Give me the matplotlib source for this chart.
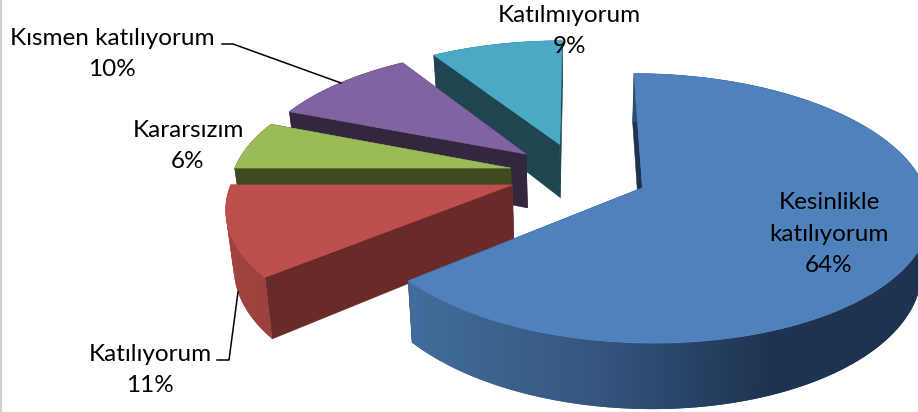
import numpy as np
import matplotlib
matplotlib.use("Agg")
import matplotlib.pyplot as plt
from matplotlib.patches import Polygon
from matplotlib.colors import to_rgb

categories = ["Kesinlikle\nkatılıyorum", "Katılıyorum", "Kararsızım", "Kısmen katılıyorum", "Katılmıyorum"]
values = [64, 11, 6, 10, 9]
top_colors = ["#4F81BD", "#BD4F4C", "#9BBB59", "#8064A2", "#4AAAC5"]
face_colors = ["#1E3350", "#6B2A2A", "#404A20", "#33263F", "#1F4650"]
wall_stops = [
    [(412, "#426C9B"), (600, "#34557F"), (770, "#1E3350"), (930, "#1E3350")],
    [(200, "#A24340"), (300, "#9A403E")],
    [(200, "#404A20"), (300, "#404A20")],
    [(200, "#33263F"), (600, "#33263F")],
    [(200, "#1F4650"), (600, "#1F4650")],
]
label_pos = [(829, 234), (150, 370), (188, 146), (112, 54), (569, 31)]
leaders = [None, [(217, 360), (229, 360), (238, 292)], None, [(222, 44), (233, 44), (341, 83)], None]

# projection of the pie plane
GX, GY, AX, BY, K, EXPLODE, DEPTH, SHRINK = 578.5, 174, 278, 127.5, 0.15, 0.25, 55, 0.977


def project(X, Y):
    w = 1 + K * Y
    return GX + AX * X / w, GY - BY * Y / w, w


def lower(x, y, w):
    return GX + (x - GX) * SHRINK, y + DEPTH / w


fig = plt.figure(figsize=(9.18, 4.12), dpi=100)
ax = fig.add_axes([0, 0, 1, 1])
ax.set_xlim(0, 918)
ax.set_ylim(412, 0)
ax.axis("off")
plt.rcParams["font.family"] = "Lato"

edges = np.cumsum([0] + values) / sum(values) * 2 * np.pi
slices = []
for i in range(len(values)):
    slices.append((i, edges[i], edges[i + 1]))

for i, t0, t1 in reversed(slices):
    mid = (t0 + t1) / 2
    ox, oy = EXPLODE * np.sin(mid), EXPLODE * np.cos(mid)
    n = max(int((t1 - t0) * 60), 6)
    ts = np.linspace(t0, t1, n)
    ax_, ay_, aw = project(ox, oy)
    xs, ys, ws = project(ox + np.sin(ts), oy + np.cos(ts))
    xb, yb = lower(xs, ys, ws)
    axb, ayb = lower(ax_, ay_, aw)
    # cut faces
    for j in (0, -1):
        ax.add_patch(Polygon([(ax_, ay_), (xs[j], ys[j]), (xb[j], yb[j]), (axb, ayb)],
                             fc=face_colors[i], ec=face_colors[i], lw=0.4, zorder=i * -10 + 1))
    # outer wall: each strip runs on under the next one so no seams show
    sx = [s[0] for s in wall_stops[i]]
    rgb = np.array([to_rgb(s[1]) for s in wall_stops[i]])
    for k in range(n - 1):
        e = min(k + 2, n - 1)
        xm = (xs[k] + xs[k + 1]) / 2
        c = [np.interp(xm, sx, rgb[:, m]) for m in range(3)]
        ax.add_patch(Polygon([(xs[k], ys[k]), (xs[e], ys[e]), (xb[e], yb[e]), (xb[k], yb[k])],
                             fc=c, ec="none", lw=0, zorder=i * -10 + 2))
    # top
    ax.add_patch(Polygon(np.column_stack([np.r_[ax_, xs], np.r_[ay_, ys]]),
                         fc=top_colors[i], ec=top_colors[i], lw=0.4, zorder=i * -10 + 3))

for i, cat in enumerate(categories):
    x, y = label_pos[i]
    ax.text(x, y, f"{cat}\n{values[i]}%", ha="center", va="center", fontsize=17.5,
            color="black", linespacing=1.6, zorder=20)
    if leaders[i]:
        p = np.array(leaders[i])
        ax.plot(p[:, 0], p[:, 1], color="black", lw=1.1, zorder=10)

ax.plot([0.5, 0.5], [0, 412], color="#c8c8c8", lw=1.2, zorder=30)
fig.savefig("out.png", dpi=100)
